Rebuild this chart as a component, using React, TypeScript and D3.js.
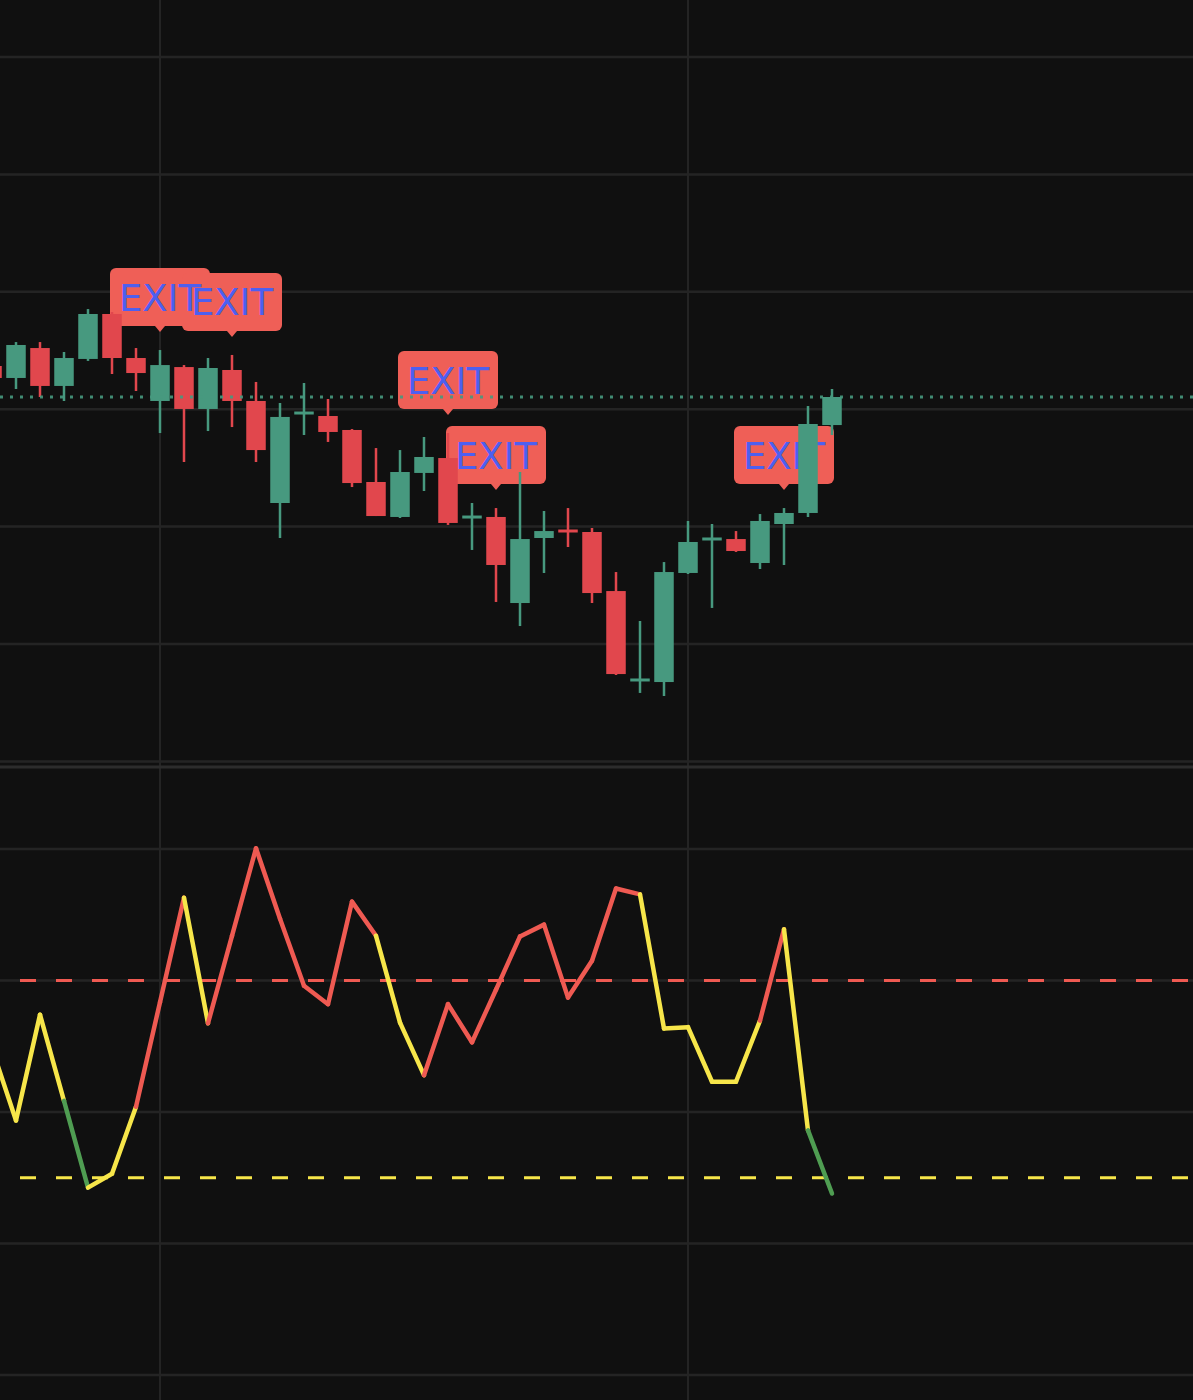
import React from "react";
import * as d3 from "d3";

// ---------- data ----------
const openP = [2533.68, 2532.66, 2535.21, 2531.98, 2534.28, 2538.11, 2534.36, 2530.70, 2533.59, 2530.02, 2533.34, 2530.70, 2522.01, 2529.59, 2529.42, 2528.23, 2523.80, 2520.82, 2524.57, 2525.84, 2520.73, 2520.82, 2513.49, 2519.03, 2519.71, 2519.54, 2514.51, 2506.85, 2506.76, 2516.05, 2518.86, 2518.94, 2516.90, 2520.22, 2521.16, 2528.65];
const highP = [2534.02, 2535.72, 2535.72, 2534.87, 2538.53, 2538.28, 2535.21, 2535.04, 2533.76, 2534.36, 2534.62, 2532.32, 2530.53, 2532.23, 2530.87, 2528.31, 2526.69, 2526.52, 2527.63, 2527.97, 2522.01, 2521.58, 2524.65, 2521.33, 2521.58, 2519.88, 2516.13, 2511.96, 2516.98, 2520.48, 2520.22, 2519.62, 2521.07, 2521.58, 2530.27, 2531.72];
const lowP = [2532.32, 2531.72, 2531.04, 2530.70, 2534.11, 2533.00, 2531.55, 2527.97, 2525.50, 2528.14, 2528.48, 2525.50, 2519.03, 2527.80, 2527.21, 2523.37, 2520.90, 2520.73, 2523.03, 2520.14, 2518.01, 2513.58, 2511.53, 2516.05, 2518.26, 2513.49, 2507.36, 2505.83, 2505.57, 2515.96, 2513.07, 2517.84, 2516.39, 2516.73, 2520.82, 2527.80];
const closeP = [2532.66, 2535.47, 2531.98, 2534.36, 2538.11, 2534.36, 2533.08, 2533.76, 2530.02, 2533.51, 2530.70, 2526.52, 2529.34, 2529.76, 2528.06, 2523.71, 2520.90, 2524.65, 2525.93, 2520.31, 2520.90, 2516.73, 2518.94, 2519.62, 2519.54, 2514.34, 2507.44, 2507.02, 2516.13, 2518.69, 2519.03, 2517.92, 2520.48, 2521.16, 2528.74, 2531.04];

// oscillator values (one per bar) and colour zone of the segment ending at each bar
const oscValues = [49.7, 38.7, 54.8, 41.7, 28.5, 30.6, 40.8, 56.7, 72.6, 53.5, 66.8, 80.1, 69.4, 59.2, 56.4, 72.0, 66.8, 53.6, 45.6, 56.4, 50.6, 58.6, 66.7, 68.5, 57.4, 63.0, 74.0, 73.1, 52.7, 52.9, 44.6, 44.6, 53.9, 67.8, 37.2, 27.6];
const segZones = ["", "y", "y", "y", "g", "y", "y", "r", "r", "y", "r", "r", "r", "r", "r", "r", "r", "y", "y", "r", "r", "r", "r", "r", "r", "r", "r", "r", "y", "y", "y", "y", "y", "r", "y", "g"];

const exitBars = [7, 10, 19, 21, 33];
const exitText = "EXIT";
const timeGridBars = [7, 29];
const priceTicks = [2570, 2560, 2550, 2540, 2530, 2520, 2510, 2500];
const oscTicks = [80, 60, 40, 20, 0];
const upperLevel = 60;
const lowerLevel = 30;

// ---------- styles ----------
const W = 1193;
const H = 1400;
const BG = "#101010";
const GRID = "#242424";
const UP = "#47997f";
const DOWN = "#e1474d";
const LABEL_BG = "#ef5f57";
const LABEL_TEXT = "#4d5ff0";
const ZONE_COLORS: Record<string, string> = { y: "#f7e64a", r: "#ef5a52", g: "#4f9d52" };

export default function App() {
  const x = d3.scaleLinear().domain([0, 35]).range([-8, 832]);
  const y = d3.scaleLinear().domain([2560, 2510]).range([57, 644]);
  const yo = d3.scaleLinear().domain([80, 0]).range([849, 1375]);

  const bodyW = 19.5;
  const lastClose = closeP[closeP.length - 1];

  const segs = oscValues.slice(1).map((v, k) => {
    const i = k + 1;
    return {
      x1: x(i - 1),
      y1: yo(oscValues[i - 1]),
      x2: x(i),
      y2: yo(v),
      c: ZONE_COLORS[segZones[i]] || ZONE_COLORS.y,
    };
  });

  const labelW = 100;
  const labelH = 58;
  const labels = exitBars.map((b) => {
    const cx = x(b);
    const bottom = y(highP[b]) - 24;
    return { b, cx, bottom, top: bottom - labelH };
  });

  return (
    <svg
      width={W}
      height={H}
      style={{ position: "absolute", left: 0, top: 0, display: "block" }}
      xmlns="http://www.w3.org/2000/svg"
    >
      <defs>
        <clipPath id="topPane">
          <rect x={0} y={0} width={W} height={764} />
        </clipPath>
        <clipPath id="botPane">
          <rect x={0} y={769} width={W} height={H - 769} />
        </clipPath>
      </defs>
      <rect x={0} y={0} width={W} height={H} fill={BG} />

      {/* vertical time grid */}
      {timeGridBars.map((b) => (
        <line key={"vg" + b} x1={x(b)} x2={x(b)} y1={0} y2={H} stroke={GRID} strokeWidth={2} />
      ))}

      {/* price grid */}
      <g clipPath="url(#topPane)">
        {priceTicks.map((t) => (
          <line key={"pg" + t} x1={0} x2={W} y1={y(t)} y2={y(t)} stroke={GRID} strokeWidth={2.5} />
        ))}
      </g>

      {/* pane separator */}
      <rect x={0} y={765.5} width={W} height={3} fill="#2c2c2c" />

      {/* oscillator pane */}
      <g clipPath="url(#botPane)">
        {oscTicks.map((t) => (
          <line key={"og" + t} x1={0} x2={W} y1={yo(t)} y2={yo(t)} stroke={GRID} strokeWidth={2.5} />
        ))}
        <line x1={20} x2={W} y1={yo(upperLevel)} y2={yo(upperLevel)} stroke="#ef5a52" strokeWidth={3} strokeDasharray="16 20" />
        <line x1={20} x2={W} y1={yo(lowerLevel)} y2={yo(lowerLevel)} stroke="#f7e64a" strokeWidth={3} strokeDasharray="16 20" />
        {segs.map((s, i) => (
          <line
            key={"s" + i}
            x1={s.x1}
            y1={s.y1}
            x2={s.x2}
            y2={s.y2}
            stroke={s.c}
            strokeWidth={4.5}
            strokeLinecap="round"
          />
        ))}
      </g>

      {/* price pane */}
      <g clipPath="url(#topPane)">
        {/* exit label boxes */}
        {labels.map((l) => (
          <g key={"exb" + l.b}>
            <rect x={l.cx - labelW / 2} y={l.top} width={labelW} height={labelH} rx={6} ry={6} fill={LABEL_BG} />
            <path d={`M${l.cx - 5},${l.bottom} L${l.cx},${l.bottom + 6} L${l.cx + 5},${l.bottom} Z`} fill={LABEL_BG} />
          </g>
        ))}
        {/* exit label texts */}
        {labels.map((l) => (
          <text
            key={"ext" + l.b}
            x={l.cx}
            y={l.top + labelH / 2 + 13.5}
            textAnchor="middle"
            fontFamily="'DejaVu Sans', sans-serif"
            fontSize={37}
            fill={LABEL_TEXT}
          >
            {exitText}
          </text>
        ))}

        {/* candles */}
        {openP.map((o, i) => {
          const c = closeP[i];
          const up = c >= o;
          const col = up ? UP : DOWN;
          const cx = x(i);
          const yTop = y(Math.max(o, c));
          const yBot = y(Math.min(o, c));
          const bh = Math.max(3, yBot - yTop);
          return (
            <g key={"c" + i}>
              <line x1={cx} x2={cx} y1={y(highP[i])} y2={y(lowP[i])} stroke={col} strokeWidth={2.5} />
              <rect x={cx - bodyW / 2} y={(yTop + yBot) / 2 - bh / 2} width={bodyW} height={bh} fill={col} />
            </g>
          );
        })}

        {/* last price line */}
        <line
          x1={0}
          x2={W}
          y1={y(lastClose)}
          y2={y(lastClose)}
          stroke={UP}
          strokeWidth={3}
          strokeDasharray="3 7"
          opacity={0.9}
        />
      </g>
    </svg>
  );
}
